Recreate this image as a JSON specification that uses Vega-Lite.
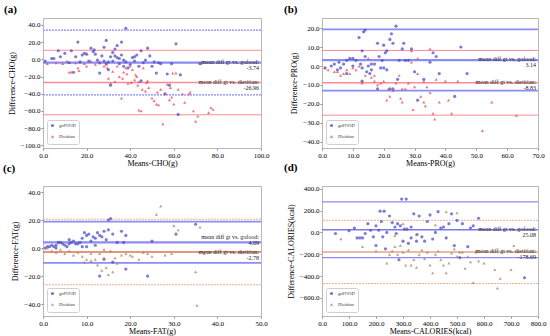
{
"$schema":"https://vega.github.io/schema/vega-lite/v6.json",
"padding":{"left":2,"top":3,"right":0,"bottom":2},
"background":"white",
"datasets":{
"pts":[
{"p":"a","g":"goFOOD","x":1,"y":-2},{"p":"a","g":"goFOOD","x":4,"y":1},{"p":"a","g":"goFOOD","x":5,"y":1},{"p":"a","g":"goFOOD","x":7,"y":10},{"p":"a","g":"goFOOD","x":8,"y":3},{"p":"a","g":"goFOOD","x":10,"y":7},{"p":"a","g":"goFOOD","x":12,"y":-4},{"p":"a","g":"goFOOD","x":13,"y":10},{"p":"a","g":"goFOOD","x":14,"y":-15},{"p":"a","g":"goFOOD","x":15,"y":3},{"p":"a","g":"goFOOD","x":16,"y":20},{"p":"a","g":"goFOOD","x":17,"y":-3},{"p":"a","g":"goFOOD","x":18,"y":5},{"p":"a","g":"goFOOD","x":19,"y":7},{"p":"a","g":"goFOOD","x":20,"y":6},{"p":"a","g":"goFOOD","x":21,"y":-2},{"p":"a","g":"goFOOD","x":22,"y":13},{"p":"a","g":"goFOOD","x":23,"y":9},{"p":"a","g":"goFOOD","x":23.5,"y":11},{"p":"a","g":"goFOOD","x":24,"y":6},{"p":"a","g":"goFOOD","x":25,"y":-1},{"p":"a","g":"goFOOD","x":26,"y":-4},{"p":"a","g":"goFOOD","x":26,"y":-16},{"p":"a","g":"goFOOD","x":27,"y":4},{"p":"a","g":"goFOOD","x":28,"y":-2},{"p":"a","g":"goFOOD","x":28,"y":14},{"p":"a","g":"goFOOD","x":29,"y":22},{"p":"a","g":"goFOOD","x":29,"y":-5},{"p":"a","g":"goFOOD","x":30,"y":-3},{"p":"a","g":"goFOOD","x":30,"y":-12},{"p":"a","g":"goFOOD","x":31,"y":3},{"p":"a","g":"goFOOD","x":31,"y":-30},{"p":"a","g":"goFOOD","x":32,"y":8},{"p":"a","g":"goFOOD","x":32,"y":-2},{"p":"a","g":"goFOOD","x":33,"y":4},{"p":"a","g":"goFOOD","x":33,"y":12},{"p":"a","g":"goFOOD","x":34,"y":2},{"p":"a","g":"goFOOD","x":34,"y":16},{"p":"a","g":"goFOOD","x":35,"y":1},{"p":"a","g":"goFOOD","x":35,"y":-5},{"p":"a","g":"goFOOD","x":36,"y":5},{"p":"a","g":"goFOOD","x":36,"y":20},{"p":"a","g":"goFOOD","x":37,"y":-1},{"p":"a","g":"goFOOD","x":37,"y":-8},{"p":"a","g":"goFOOD","x":38,"y":36},{"p":"a","g":"goFOOD","x":38,"y":-3},{"p":"a","g":"goFOOD","x":39,"y":-10},{"p":"a","g":"goFOOD","x":40,"y":-6},{"p":"a","g":"goFOOD","x":41,"y":2},{"p":"a","g":"goFOOD","x":42,"y":3},{"p":"a","g":"goFOOD","x":42,"y":-2},{"p":"a","g":"goFOOD","x":43,"y":5},{"p":"a","g":"goFOOD","x":44,"y":-8},{"p":"a","g":"goFOOD","x":45,"y":10},{"p":"a","g":"goFOOD","x":45,"y":-25},{"p":"a","g":"goFOOD","x":46,"y":-4},{"p":"a","g":"goFOOD","x":47,"y":-1},{"p":"a","g":"goFOOD","x":48,"y":13},{"p":"a","g":"goFOOD","x":49,"y":4},{"p":"a","g":"goFOOD","x":50,"y":-8},{"p":"a","g":"goFOOD","x":51,"y":-3},{"p":"a","g":"goFOOD","x":52,"y":-16},{"p":"a","g":"goFOOD","x":53,"y":-4},{"p":"a","g":"goFOOD","x":54,"y":-5},{"p":"a","g":"goFOOD","x":56,"y":-40},{"p":"a","g":"goFOOD","x":57,"y":-17},{"p":"a","g":"goFOOD","x":58,"y":-30},{"p":"a","g":"goFOOD","x":59,"y":-5},{"p":"a","g":"goFOOD","x":61,"y":18},{"p":"a","g":"goFOOD","x":62,"y":-64},{"p":"a","g":"goFOOD","x":63,"y":-18},{"p":"a","g":"goFOOD","x":72,"y":-5},
{"p":"a","g":"Dietitian","x":2,"y":-5},{"p":"a","g":"Dietitian","x":6,"y":-4},{"p":"a","g":"Dietitian","x":9,"y":-5},{"p":"a","g":"Dietitian","x":11,"y":-2},{"p":"a","g":"Dietitian","x":12,"y":-15},{"p":"a","g":"Dietitian","x":13,"y":-15},{"p":"a","g":"Dietitian","x":15,"y":-4},{"p":"a","g":"Dietitian","x":16,"y":-10},{"p":"a","g":"Dietitian","x":16.5,"y":-13},{"p":"a","g":"Dietitian","x":19,"y":-5},{"p":"a","g":"Dietitian","x":20,"y":-8},{"p":"a","g":"Dietitian","x":22,"y":-2},{"p":"a","g":"Dietitian","x":24,"y":-6},{"p":"a","g":"Dietitian","x":26,"y":-4},{"p":"a","g":"Dietitian","x":28,"y":-8},{"p":"a","g":"Dietitian","x":29,"y":-6},{"p":"a","g":"Dietitian","x":29.5,"y":-10},{"p":"a","g":"Dietitian","x":30,"y":-22},{"p":"a","g":"Dietitian","x":31,"y":-28},{"p":"a","g":"Dietitian","x":32,"y":-14},{"p":"a","g":"Dietitian","x":33,"y":-26},{"p":"a","g":"Dietitian","x":34,"y":-8},{"p":"a","g":"Dietitian","x":35,"y":-20},{"p":"a","g":"Dietitian","x":36,"y":-45},{"p":"a","g":"Dietitian","x":36.5,"y":-22},{"p":"a","g":"Dietitian","x":37,"y":-15},{"p":"a","g":"Dietitian","x":38,"y":-10},{"p":"a","g":"Dietitian","x":38.5,"y":-17},{"p":"a","g":"Dietitian","x":39,"y":-28},{"p":"a","g":"Dietitian","x":40,"y":-8},{"p":"a","g":"Dietitian","x":40.5,"y":-27},{"p":"a","g":"Dietitian","x":41,"y":-12},{"p":"a","g":"Dietitian","x":42,"y":-24},{"p":"a","g":"Dietitian","x":42.5,"y":-18},{"p":"a","g":"Dietitian","x":43,"y":-20},{"p":"a","g":"Dietitian","x":43.5,"y":-30},{"p":"a","g":"Dietitian","x":44,"y":-26},{"p":"a","g":"Dietitian","x":44,"y":-59},{"p":"a","g":"Dietitian","x":45,"y":-60},{"p":"a","g":"Dietitian","x":45.5,"y":-35},{"p":"a","g":"Dietitian","x":46,"y":-10},{"p":"a","g":"Dietitian","x":47,"y":-37},{"p":"a","g":"Dietitian","x":47.5,"y":-27},{"p":"a","g":"Dietitian","x":48,"y":-25},{"p":"a","g":"Dietitian","x":48.5,"y":-33},{"p":"a","g":"Dietitian","x":50,"y":-45},{"p":"a","g":"Dietitian","x":51,"y":-48},{"p":"a","g":"Dietitian","x":52,"y":-52},{"p":"a","g":"Dietitian","x":52.5,"y":-38},{"p":"a","g":"Dietitian","x":53,"y":-53},{"p":"a","g":"Dietitian","x":54,"y":-35},{"p":"a","g":"Dietitian","x":55,"y":-75},{"p":"a","g":"Dietitian","x":56,"y":-40},{"p":"a","g":"Dietitian","x":57,"y":-29},{"p":"a","g":"Dietitian","x":58,"y":-47},{"p":"a","g":"Dietitian","x":58.5,"y":-33},{"p":"a","g":"Dietitian","x":59,"y":-44},{"p":"a","g":"Dietitian","x":59.5,"y":-16},{"p":"a","g":"Dietitian","x":60,"y":-52},{"p":"a","g":"Dietitian","x":61,"y":-16},{"p":"a","g":"Dietitian","x":62,"y":-35},{"p":"a","g":"Dietitian","x":64,"y":-40},{"p":"a","g":"Dietitian","x":65,"y":-50},{"p":"a","g":"Dietitian","x":67,"y":-40},{"p":"a","g":"Dietitian","x":67.5,"y":-38},{"p":"a","g":"Dietitian","x":69,"y":-60},{"p":"a","g":"Dietitian","x":70,"y":-72},{"p":"a","g":"Dietitian","x":71,"y":-66},{"p":"a","g":"Dietitian","x":72.5,"y":-5},{"p":"a","g":"Dietitian","x":76,"y":-62},{"p":"a","g":"Dietitian","x":77,"y":-56},{"p":"a","g":"Dietitian","x":78,"y":-58},
{"p":"b","g":"goFOOD","x":1,"y":-1},{"p":"b","g":"goFOOD","x":3,"y":0},{"p":"b","g":"goFOOD","x":4,"y":1},{"p":"b","g":"goFOOD","x":5,"y":-2},{"p":"b","g":"goFOOD","x":5.5,"y":2},{"p":"b","g":"goFOOD","x":6,"y":-1},{"p":"b","g":"goFOOD","x":7,"y":1},{"p":"b","g":"goFOOD","x":8,"y":3},{"p":"b","g":"goFOOD","x":9,"y":4},{"p":"b","g":"goFOOD","x":10,"y":4},{"p":"b","g":"goFOOD","x":11,"y":3},{"p":"b","g":"goFOOD","x":12,"y":15},{"p":"b","g":"goFOOD","x":12.5,"y":1},{"p":"b","g":"goFOOD","x":13,"y":8},{"p":"b","g":"goFOOD","x":13,"y":-1},{"p":"b","g":"goFOOD","x":13.5,"y":18},{"p":"b","g":"goFOOD","x":14,"y":19},{"p":"b","g":"goFOOD","x":14,"y":5},{"p":"b","g":"goFOOD","x":14.5,"y":-3},{"p":"b","g":"goFOOD","x":15,"y":0},{"p":"b","g":"goFOOD","x":15.5,"y":-4},{"p":"b","g":"goFOOD","x":16,"y":-2},{"p":"b","g":"goFOOD","x":17,"y":1},{"p":"b","g":"goFOOD","x":18,"y":12},{"p":"b","g":"goFOOD","x":18.5,"y":5},{"p":"b","g":"goFOOD","x":18,"y":-12},{"p":"b","g":"goFOOD","x":19,"y":-1},{"p":"b","g":"goFOOD","x":19.5,"y":3},{"p":"b","g":"goFOOD","x":20,"y":11},{"p":"b","g":"goFOOD","x":20.5,"y":7},{"p":"b","g":"goFOOD","x":21,"y":8},{"p":"b","g":"goFOOD","x":21,"y":-2},{"p":"b","g":"goFOOD","x":22,"y":14},{"p":"b","g":"goFOOD","x":22.5,"y":17},{"p":"b","g":"goFOOD","x":22,"y":-12},{"p":"b","g":"goFOOD","x":23,"y":12},{"p":"b","g":"goFOOD","x":23,"y":-12},{"p":"b","g":"goFOOD","x":24,"y":21},{"p":"b","g":"goFOOD","x":24.5,"y":-7},{"p":"b","g":"goFOOD","x":25,"y":3},{"p":"b","g":"goFOOD","x":26,"y":9},{"p":"b","g":"goFOOD","x":26.5,"y":12},{"p":"b","g":"goFOOD","x":27,"y":3},{"p":"b","g":"goFOOD","x":28,"y":3},{"p":"b","g":"goFOOD","x":29,"y":9},{"p":"b","g":"goFOOD","x":30,"y":-3},{"p":"b","g":"goFOOD","x":31,"y":-18},{"p":"b","g":"goFOOD","x":33,"y":-7},{"p":"b","g":"goFOOD","x":35,"y":2},{"p":"b","g":"goFOOD","x":36,"y":7},{"p":"b","g":"goFOOD","x":37,"y":5},{"p":"b","g":"goFOOD","x":38,"y":-4},{"p":"b","g":"goFOOD","x":43,"y":-16},{"p":"b","g":"goFOOD","x":45,"y":10},{"p":"b","g":"goFOOD","x":47,"y":-4},{"p":"b","g":"goFOOD","x":13,"y":-8},{"p":"b","g":"goFOOD","x":20,"y":-1},{"p":"b","g":"goFOOD","x":16,"y":1},{"p":"b","g":"goFOOD","x":10,"y":0},{"p":"b","g":"goFOOD","x":8,"y":-4},
{"p":"b","g":"Dietitian","x":1,"y":-1},{"p":"b","g":"Dietitian","x":2,"y":-2},{"p":"b","g":"Dietitian","x":4,"y":-3},{"p":"b","g":"Dietitian","x":5,"y":-3},{"p":"b","g":"Dietitian","x":6,"y":-5},{"p":"b","g":"Dietitian","x":7,"y":-4},{"p":"b","g":"Dietitian","x":8,"y":-2},{"p":"b","g":"Dietitian","x":9,"y":-4},{"p":"b","g":"Dietitian","x":10,"y":-1},{"p":"b","g":"Dietitian","x":11,"y":-2},{"p":"b","g":"Dietitian","x":12,"y":0},{"p":"b","g":"Dietitian","x":13,"y":-9},{"p":"b","g":"Dietitian","x":14,"y":-5},{"p":"b","g":"Dietitian","x":15,"y":4},{"p":"b","g":"Dietitian","x":16,"y":-6},{"p":"b","g":"Dietitian","x":17,"y":-8},{"p":"b","g":"Dietitian","x":18,"y":-10},{"p":"b","g":"Dietitian","x":19,"y":-9},{"p":"b","g":"Dietitian","x":20,"y":-8},{"p":"b","g":"Dietitian","x":21,"y":-18},{"p":"b","g":"Dietitian","x":21.5,"y":-12},{"p":"b","g":"Dietitian","x":22,"y":-16},{"p":"b","g":"Dietitian","x":23,"y":-13},{"p":"b","g":"Dietitian","x":24,"y":-9},{"p":"b","g":"Dietitian","x":25,"y":-5},{"p":"b","g":"Dietitian","x":25.5,"y":-17},{"p":"b","g":"Dietitian","x":26,"y":-19},{"p":"b","g":"Dietitian","x":27,"y":-12},{"p":"b","g":"Dietitian","x":28,"y":-9},{"p":"b","g":"Dietitian","x":29,"y":8},{"p":"b","g":"Dietitian","x":29.5,"y":-23},{"p":"b","g":"Dietitian","x":30,"y":-11},{"p":"b","g":"Dietitian","x":31,"y":-4},{"p":"b","g":"Dietitian","x":32,"y":-16},{"p":"b","g":"Dietitian","x":33,"y":-19},{"p":"b","g":"Dietitian","x":33.5,"y":-21},{"p":"b","g":"Dietitian","x":34,"y":-11},{"p":"b","g":"Dietitian","x":35,"y":-14},{"p":"b","g":"Dietitian","x":35,"y":9},{"p":"b","g":"Dietitian","x":36,"y":-25},{"p":"b","g":"Dietitian","x":36.5,"y":-28},{"p":"b","g":"Dietitian","x":37,"y":-7},{"p":"b","g":"Dietitian","x":38,"y":-19},{"p":"b","g":"Dietitian","x":40,"y":-8},{"p":"b","g":"Dietitian","x":41,"y":-18},{"p":"b","g":"Dietitian","x":42,"y":-25},{"p":"b","g":"Dietitian","x":44,"y":-8},{"p":"b","g":"Dietitian","x":52,"y":-34},{"p":"b","g":"Dietitian","x":55,"y":-19},{"p":"b","g":"Dietitian","x":63,"y":-26},{"p":"b","g":"Dietitian","x":29,"y":2},{"p":"b","g":"Dietitian","x":31,"y":4},{"p":"b","g":"Dietitian","x":17,"y":-5},{"p":"b","g":"Dietitian","x":26,"y":-12},{"p":"b","g":"Dietitian","x":33,"y":-8},
{"p":"c","g":"goFOOD","x":0.5,"y":0},{"p":"c","g":"goFOOD","x":1,"y":1},{"p":"c","g":"goFOOD","x":1.5,"y":1},{"p":"c","g":"goFOOD","x":2,"y":2},{"p":"c","g":"goFOOD","x":2.5,"y":1},{"p":"c","g":"goFOOD","x":3,"y":2},{"p":"c","g":"goFOOD","x":3.5,"y":4},{"p":"c","g":"goFOOD","x":4,"y":4},{"p":"c","g":"goFOOD","x":4.5,"y":3},{"p":"c","g":"goFOOD","x":5,"y":2},{"p":"c","g":"goFOOD","x":5.5,"y":1},{"p":"c","g":"goFOOD","x":6,"y":3},{"p":"c","g":"goFOOD","x":6.5,"y":4},{"p":"c","g":"goFOOD","x":7,"y":5},{"p":"c","g":"goFOOD","x":7.5,"y":3},{"p":"c","g":"goFOOD","x":8,"y":3},{"p":"c","g":"goFOOD","x":8.5,"y":4},{"p":"c","g":"goFOOD","x":9,"y":7},{"p":"c","g":"goFOOD","x":9.5,"y":11},{"p":"c","g":"goFOOD","x":10,"y":9},{"p":"c","g":"goFOOD","x":10.5,"y":10},{"p":"c","g":"goFOOD","x":11,"y":5},{"p":"c","g":"goFOOD","x":11.5,"y":8},{"p":"c","g":"goFOOD","x":12,"y":7},{"p":"c","g":"goFOOD","x":12.5,"y":11},{"p":"c","g":"goFOOD","x":13,"y":9},{"p":"c","g":"goFOOD","x":13.5,"y":8},{"p":"c","g":"goFOOD","x":14,"y":12},{"p":"c","g":"goFOOD","x":14.5,"y":6},{"p":"c","g":"goFOOD","x":15,"y":13},{"p":"c","g":"goFOOD","x":15,"y":20},{"p":"c","g":"goFOOD","x":15.5,"y":21},{"p":"c","g":"goFOOD","x":16,"y":10},{"p":"c","g":"goFOOD","x":16,"y":-10},{"p":"c","g":"goFOOD","x":17,"y":4},{"p":"c","g":"goFOOD","x":18,"y":12},{"p":"c","g":"goFOOD","x":18.5,"y":4},{"p":"c","g":"goFOOD","x":19,"y":9},{"p":"c","g":"goFOOD","x":19,"y":-15},{"p":"c","g":"goFOOD","x":24,"y":-20},{"p":"c","g":"goFOOD","x":25,"y":5},{"p":"c","g":"goFOOD","x":14,"y":-8},{"p":"c","g":"goFOOD","x":13,"y":-20},{"p":"c","g":"goFOOD","x":10,"y":1},{"p":"c","g":"goFOOD","x":12,"y":2},{"p":"c","g":"goFOOD","x":6,"y":6},{"p":"c","g":"goFOOD","x":9,"y":1},{"p":"c","g":"goFOOD","x":3,"y":0},{"p":"c","g":"goFOOD","x":35,"y":17},{"p":"c","g":"goFOOD","x":30.5,"y":10},
{"p":"c","g":"Dietitian","x":1,"y":0},{"p":"c","g":"Dietitian","x":2,"y":-2},{"p":"c","g":"Dietitian","x":3,"y":-3},{"p":"c","g":"Dietitian","x":4,"y":-1},{"p":"c","g":"Dietitian","x":5,"y":-4},{"p":"c","g":"Dietitian","x":6,"y":-2},{"p":"c","g":"Dietitian","x":7,"y":-5},{"p":"c","g":"Dietitian","x":8,"y":-3},{"p":"c","g":"Dietitian","x":9,"y":-6},{"p":"c","g":"Dietitian","x":9.5,"y":-10},{"p":"c","g":"Dietitian","x":10,"y":-8},{"p":"c","g":"Dietitian","x":11,"y":-4},{"p":"c","g":"Dietitian","x":12,"y":-8},{"p":"c","g":"Dietitian","x":12.5,"y":-12},{"p":"c","g":"Dietitian","x":13,"y":-4},{"p":"c","g":"Dietitian","x":13.5,"y":-16},{"p":"c","g":"Dietitian","x":14,"y":-1},{"p":"c","g":"Dietitian","x":14.5,"y":-14},{"p":"c","g":"Dietitian","x":15,"y":-19},{"p":"c","g":"Dietitian","x":15.5,"y":-2},{"p":"c","g":"Dietitian","x":16,"y":-17},{"p":"c","g":"Dietitian","x":16.5,"y":-7},{"p":"c","g":"Dietitian","x":17,"y":-11},{"p":"c","g":"Dietitian","x":18,"y":-5},{"p":"c","g":"Dietitian","x":19,"y":-4},{"p":"c","g":"Dietitian","x":20,"y":-5},{"p":"c","g":"Dietitian","x":22,"y":-8},{"p":"c","g":"Dietitian","x":23,"y":-3},{"p":"c","g":"Dietitian","x":24,"y":-4},{"p":"c","g":"Dietitian","x":25,"y":-6},{"p":"c","g":"Dietitian","x":26,"y":24},{"p":"c","g":"Dietitian","x":27,"y":30},{"p":"c","g":"Dietitian","x":28,"y":-5},{"p":"c","g":"Dietitian","x":29.5,"y":-4},{"p":"c","g":"Dietitian","x":30,"y":16},{"p":"c","g":"Dietitian","x":31,"y":13},{"p":"c","g":"Dietitian","x":35,"y":-17},{"p":"c","g":"Dietitian","x":35.3,"y":-41},{"p":"c","g":"Dietitian","x":36,"y":15},{"p":"c","g":"Dietitian","x":37,"y":-4},{"p":"c","g":"Dietitian","x":20.5,"y":-6},{"p":"c","g":"Dietitian","x":14,"y":-7},{"p":"c","g":"Dietitian","x":11,"y":-9},
{"p":"d","g":"goFOOD","x":50,"y":-10},{"p":"d","g":"goFOOD","x":100,"y":15},{"p":"d","g":"goFOOD","x":120,"y":40},{"p":"d","g":"goFOOD","x":130,"y":-50},{"p":"d","g":"goFOOD","x":140,"y":-50},{"p":"d","g":"goFOOD","x":160,"y":-10},{"p":"d","g":"goFOOD","x":170,"y":80},{"p":"d","g":"goFOOD","x":180,"y":20},{"p":"d","g":"goFOOD","x":190,"y":-40},{"p":"d","g":"goFOOD","x":200,"y":60},{"p":"d","g":"goFOOD","x":210,"y":20},{"p":"d","g":"goFOOD","x":215,"y":195},{"p":"d","g":"goFOOD","x":220,"y":100},{"p":"d","g":"goFOOD","x":225,"y":-40},{"p":"d","g":"goFOOD","x":230,"y":195},{"p":"d","g":"goFOOD","x":235,"y":-150},{"p":"d","g":"goFOOD","x":240,"y":0},{"p":"d","g":"goFOOD","x":250,"y":150},{"p":"d","g":"goFOOD","x":260,"y":90},{"p":"d","g":"goFOOD","x":270,"y":50},{"p":"d","g":"goFOOD","x":275,"y":-10},{"p":"d","g":"goFOOD","x":280,"y":80},{"p":"d","g":"goFOOD","x":285,"y":-250},{"p":"d","g":"goFOOD","x":290,"y":60},{"p":"d","g":"goFOOD","x":295,"y":305},{"p":"d","g":"goFOOD","x":300,"y":-80},{"p":"d","g":"goFOOD","x":305,"y":30},{"p":"d","g":"goFOOD","x":312,"y":305},{"p":"d","g":"goFOOD","x":315,"y":30},{"p":"d","g":"goFOOD","x":320,"y":-100},{"p":"d","g":"goFOOD","x":330,"y":-50},{"p":"d","g":"goFOOD","x":340,"y":170},{"p":"d","g":"goFOOD","x":350,"y":-80},{"p":"d","g":"goFOOD","x":360,"y":150},{"p":"d","g":"goFOOD","x":370,"y":-40},{"p":"d","g":"goFOOD","x":380,"y":-80},{"p":"d","g":"goFOOD","x":390,"y":100},{"p":"d","g":"goFOOD","x":400,"y":160},{"p":"d","g":"goFOOD","x":410,"y":-60},{"p":"d","g":"goFOOD","x":420,"y":0},{"p":"d","g":"goFOOD","x":430,"y":190},{"p":"d","g":"goFOOD","x":440,"y":40},{"p":"d","g":"goFOOD","x":450,"y":50},{"p":"d","g":"goFOOD","x":460,"y":-50},{"p":"d","g":"goFOOD","x":470,"y":80},{"p":"d","g":"goFOOD","x":480,"y":170},{"p":"d","g":"goFOOD","x":490,"y":-120},{"p":"d","g":"goFOOD","x":500,"y":110},{"p":"d","g":"goFOOD","x":510,"y":-230},{"p":"d","g":"goFOOD","x":520,"y":80},{"p":"d","g":"goFOOD","x":540,"y":-130},{"p":"d","g":"goFOOD","x":550,"y":40},{"p":"d","g":"goFOOD","x":560,"y":60},{"p":"d","g":"goFOOD","x":580,"y":130},{"p":"d","g":"goFOOD","x":750,"y":-415},{"p":"d","g":"goFOOD","x":150,"y":-50},{"p":"d","g":"goFOOD","x":200,"y":-120},{"p":"d","g":"goFOOD","x":330,"y":50},{"p":"d","g":"goFOOD","x":352,"y":-20},
{"p":"d","g":"Dietitian","x":70,"y":-60},{"p":"d","g":"Dietitian","x":150,"y":-130},{"p":"d","g":"Dietitian","x":200,"y":-170},{"p":"d","g":"Dietitian","x":240,"y":-280},{"p":"d","g":"Dietitian","x":250,"y":-200},{"p":"d","g":"Dietitian","x":260,"y":-170},{"p":"d","g":"Dietitian","x":270,"y":-130},{"p":"d","g":"Dietitian","x":280,"y":-200},{"p":"d","g":"Dietitian","x":290,"y":-120},{"p":"d","g":"Dietitian","x":300,"y":-180},{"p":"d","g":"Dietitian","x":310,"y":-300},{"p":"d","g":"Dietitian","x":320,"y":-160},{"p":"d","g":"Dietitian","x":330,"y":-300},{"p":"d","g":"Dietitian","x":340,"y":-250},{"p":"d","g":"Dietitian","x":350,"y":-320},{"p":"d","g":"Dietitian","x":360,"y":-200},{"p":"d","g":"Dietitian","x":370,"y":-160},{"p":"d","g":"Dietitian","x":380,"y":-240},{"p":"d","g":"Dietitian","x":390,"y":-180},{"p":"d","g":"Dietitian","x":400,"y":-300},{"p":"d","g":"Dietitian","x":410,"y":-370},{"p":"d","g":"Dietitian","x":420,"y":-200},{"p":"d","g":"Dietitian","x":430,"y":-170},{"p":"d","g":"Dietitian","x":440,"y":-250},{"p":"d","g":"Dietitian","x":450,"y":-300},{"p":"d","g":"Dietitian","x":460,"y":-370},{"p":"d","g":"Dietitian","x":470,"y":-280},{"p":"d","g":"Dietitian","x":480,"y":-190},{"p":"d","g":"Dietitian","x":490,"y":-150},{"p":"d","g":"Dietitian","x":500,"y":-220},{"p":"d","g":"Dietitian","x":510,"y":-180},{"p":"d","g":"Dietitian","x":520,"y":-180},{"p":"d","g":"Dietitian","x":530,"y":-330},{"p":"d","g":"Dietitian","x":540,"y":-220},{"p":"d","g":"Dietitian","x":550,"y":-270},{"p":"d","g":"Dietitian","x":560,"y":-460},{"p":"d","g":"Dietitian","x":570,"y":-180},{"p":"d","g":"Dietitian","x":580,"y":-260},{"p":"d","g":"Dietitian","x":600,"y":-280},{"p":"d","g":"Dietitian","x":640,"y":-340},{"p":"d","g":"Dietitian","x":650,"y":-510},{"p":"d","g":"Dietitian","x":660,"y":-420},{"p":"d","g":"Dietitian","x":700,"y":-340},{"p":"d","g":"Dietitian","x":710,"y":-120},{"p":"d","g":"Dietitian","x":420,"y":70},{"p":"d","g":"Dietitian","x":460,"y":190},{"p":"d","g":"Dietitian","x":500,"y":180},{"p":"d","g":"Dietitian","x":300,"y":80},{"p":"d","g":"Dietitian","x":350,"y":-20},{"p":"d","g":"Dietitian","x":270,"y":-30}
],
"lines":[
{"p":"a","line":"goFOOD mean","y":-3.74},{"p":"a","line":"goFOOD limit","y":33.9},{"p":"a","line":"goFOOD limit","y":-41.4},{"p":"a","line":"Dietitian mean","y":-26.96},{"p":"a","line":"Dietitian limit","y":10.5},{"p":"a","line":"Dietitian limit","y":-64.4},
{"p":"b","line":"goFOOD mean","y":3.14},{"p":"b","line":"goFOOD limit","y":19.3},{"p":"b","line":"goFOOD limit","y":-13.0},{"p":"b","line":"Dietitian mean","y":-8.83},{"p":"b","line":"Dietitian limit","y":8.2},{"p":"b","line":"Dietitian limit","y":-25.9},
{"p":"c","line":"goFOOD mean","y":4.09},{"p":"c","line":"goFOOD limit","y":18.8},{"p":"c","line":"goFOOD limit","y":-10.6},{"p":"c","line":"Dietitian mean","y":-2.78},{"p":"c","line":"Dietitian limit","y":20.6},{"p":"c","line":"Dietitian limit","y":-26.2},
{"p":"d","line":"goFOOD mean","y":25.08},{"p":"d","line":"goFOOD limit","y":280},{"p":"d","line":"goFOOD limit","y":-230},{"p":"d","line":"Dietitian mean","y":-178.69},{"p":"d","line":"Dietitian limit","y":111},{"p":"d","line":"Dietitian limit","y":-468}
],
"notes":[
{"p":"a","g":"goFOOD","x":100,"y":-3.74,"t":"mean diff gt vs. gofood:\n-3.74"},{"p":"a","g":"Dietitian","x":100,"y":-26.96,"t":"mean diff gt vs. dietitian:\n-26.96"},
{"p":"b","g":"goFOOD","x":70,"y":3.14,"t":"mean diff gt vs. gofood:\n3.14"},{"p":"b","g":"Dietitian","x":70,"y":-8.83,"t":"mean diff gt vs. dietitian:\n-8.83"},
{"p":"c","g":"goFOOD","x":50,"y":4.09,"t":"mean diff gt vs. gofood:\n4.09"},{"p":"c","g":"Dietitian","x":50,"y":-2.78,"t":"mean diff gt vs. dietitian:\n-2.78"},
{"p":"d","g":"goFOOD","x":800,"y":25.08,"t":"mean diff gt vs. gofood:\n25.08"},{"p":"d","g":"Dietitian","x":800,"y":-178.69,"t":"mean diff gt vs. dietitian:\n-178.69"}
]
},
"columns":2,
"spacing":{"row":38,"column":61},
"bounds":"flush",
"resolve":{"scale":{"x":"independent","y":"independent","fill":"independent","shape":"independent","stroke":"independent","strokeWidth":"independent","strokeDash":"independent"},"legend":{"fill":"independent","shape":"independent"}},
"concat":[
{"width":218,"height":130,"title":{"text":"(a)","dx":-39,"offset":3},
"layer":[
{"data":{"name":"lines"},"transform":[{"filter":"datum.p=='a'"}],"mark":{"type":"rule"},
"encoding":{"y":{"field":"y","type":"quantitative","axis":{"values":[-100,-80,-60,-40,-20,0,20,40],"format":".1f","title":"Difference-CHO(g)","labelOverlap":false}},
"stroke":{"field":"line","type":"nominal","scale":{"domain":["goFOOD mean","goFOOD limit","Dietitian mean","Dietitian limit"],"range":["#8c8cf5","#a8a8ff","#ff8a98","#ff8a98"]},"legend":null},
"strokeWidth":{"field":"line","type":"nominal","scale":{"domain":["goFOOD mean","goFOOD limit","Dietitian mean","Dietitian limit"],"range":[2.2,1,1.4,1.1]},"legend":null},
"strokeDash":{"field":"line","type":"nominal","scale":{"domain":["goFOOD mean","goFOOD limit","Dietitian mean","Dietitian limit"],"range":[[4,0],[2,1],[4,0],[4,0]]},"legend":null}}},
{"data":{"name":"pts"},"transform":[{"filter":"datum.p=='a'"}],"mark":{"type":"point","filled":true,"size":10,"opacity":0.75},
"encoding":{"x":{"field":"x","type":"quantitative","scale":{"domain":[0,100],"nice":false,"zero":false},"axis":{"values":[0,20,40,60,80,100],"format":".1f","title":"Means-CHO(g)","labelOverlap":false,"labelFlush":false}},
"y":{"field":"y","type":"quantitative","scale":{"domain":[-103,48],"nice":false,"zero":false},"axis":{"values":[-100,-80,-60,-40,-20,0,20,40],"format":".1f","title":"Difference-CHO(g)","labelOverlap":false}},
"fill":{"field":"g","type":"nominal","scale":{"domain":["goFOOD","Dietitian"],"range":["#4f4fc8","#e8485a"]},"legend":{"orient":"bottom-left","title":null}},
"shape":{"field":"g","type":"nominal","scale":{"domain":["goFOOD","Dietitian"],"range":["circle","triangle-up"]},"legend":{"orient":"bottom-left","title":null}}}},
{"data":{"name":"notes"},"transform":[{"filter":"datum.p=='a'"}],"mark":{"type":"text","align":"right","baseline":"middle","dx":-2,"dy":-1,"fontSize":6,"lineBreak":"\n","lineHeight":6,"font":"Liberation Serif","color":"#222"},
"encoding":{"x":{"field":"x","type":"quantitative","axis":{"values":[0,20,40,60,80,100],"format":".1f","title":"Means-CHO(g)","labelOverlap":false,"labelFlush":false}},"y":{"field":"y","type":"quantitative","axis":{"values":[-100,-80,-60,-40,-20,0,20,40],"format":".1f","title":"Difference-CHO(g)","labelOverlap":false}},"text":{"field":"t"}}}
]},
{"width":216,"height":130,"title":{"text":"(b)","dx":-38,"offset":3},
"layer":[
{"data":{"name":"lines"},"transform":[{"filter":"datum.p=='b'"}],"mark":{"type":"rule"},
"encoding":{"y":{"field":"y","type":"quantitative","axis":{"values":[-40,-30,-20,-10,0,10,20],"format":".1f","title":"Difference-PRO(g)","labelOverlap":false}},
"stroke":{"field":"line","type":"nominal","scale":{"domain":["goFOOD mean","goFOOD limit","Dietitian mean","Dietitian limit"],"range":["#8c8cf5","#8c8cf5","#ff8a98","#ff8a98"]},"legend":null},
"strokeWidth":{"field":"line","type":"nominal","scale":{"domain":["goFOOD mean","goFOOD limit","Dietitian mean","Dietitian limit"],"range":[2.2,1,1.4,1.1]},"legend":null}}},
{"data":{"name":"pts"},"transform":[{"filter":"datum.p=='b'"}],"mark":{"type":"point","filled":true,"size":10,"opacity":0.75},
"encoding":{"x":{"field":"x","type":"quantitative","scale":{"domain":[0,70],"nice":false,"zero":false},"axis":{"values":[0,10,20,30,40,50,60,70],"format":".1f","title":"Means-PRO(g)","labelOverlap":false,"labelFlush":false}},
"y":{"field":"y","type":"quantitative","scale":{"domain":[-43.2,25.3],"nice":false,"zero":false},"axis":{"values":[-40,-30,-20,-10,0,10,20],"format":".1f","title":"Difference-PRO(g)","labelOverlap":false}},
"fill":{"field":"g","type":"nominal","scale":{"domain":["goFOOD","Dietitian"],"range":["#4f4fc8","#e8485a"]},"legend":{"orient":"bottom-left","title":null}},
"shape":{"field":"g","type":"nominal","scale":{"domain":["goFOOD","Dietitian"],"range":["circle","triangle-up"]},"legend":{"orient":"bottom-left","title":null}}}},
{"data":{"name":"notes"},"transform":[{"filter":"datum.p=='b'"}],"mark":{"type":"text","align":"right","baseline":"middle","dx":-2,"dy":-1,"fontSize":6,"lineBreak":"\n","lineHeight":6,"font":"Liberation Serif","color":"#222"},
"encoding":{"x":{"field":"x","type":"quantitative","axis":{"values":[0,10,20,30,40,50,60,70],"format":".1f","title":"Means-PRO(g)","labelOverlap":false,"labelFlush":false}},"y":{"field":"y","type":"quantitative","axis":{"values":[-40,-30,-20,-10,0,10,20],"format":".1f","title":"Difference-PRO(g)","labelOverlap":false}},"text":{"field":"t"}}}
]},
{"width":218,"height":130,"title":{"text":"(c)","dx":-40,"offset":12},
"layer":[
{"data":{"name":"lines"},"transform":[{"filter":"datum.p=='c'"}],"mark":{"type":"rule"},
"encoding":{"y":{"field":"y","type":"quantitative","axis":{"values":[-40,-20,0,20,40],"format":".1f","title":"Difference-FAT(g)","labelOverlap":false}},
"stroke":{"field":"line","type":"nominal","scale":{"domain":["goFOOD mean","goFOOD limit","Dietitian mean","Dietitian limit"],"range":["#8c8cf5","#8c8cf5","#d9784f","#eeb090"]},"legend":null},
"strokeWidth":{"field":"line","type":"nominal","scale":{"domain":["goFOOD mean","goFOOD limit","Dietitian mean","Dietitian limit"],"range":[2.2,1,1.1,1.1]},"legend":null},
"strokeDash":{"field":"line","type":"nominal","scale":{"domain":["goFOOD mean","goFOOD limit","Dietitian mean","Dietitian limit"],"range":[[4,0],[4,0],[4,0],[2,1]]},"legend":null}}},
{"data":{"name":"pts"},"transform":[{"filter":"datum.p=='c'"}],"mark":{"type":"point","filled":true,"size":10,"opacity":0.75},
"encoding":{"x":{"field":"x","type":"quantitative","scale":{"domain":[0,50],"nice":false,"zero":false},"axis":{"values":[0,10,20,30,40,50],"format":".1f","title":"Means-FAT(g)","labelOverlap":false,"labelFlush":false}},
"y":{"field":"y","type":"quantitative","scale":{"domain":[-48.5,44.3],"nice":false,"zero":false},"axis":{"values":[-40,-20,0,20,40],"format":".1f","title":"Difference-FAT(g)","labelOverlap":false}},
"fill":{"field":"g","type":"nominal","scale":{"domain":["goFOOD","Dietitian"],"range":["#4f4fc8","#a8825e"]},"legend":{"orient":"bottom-left","title":null}},
"shape":{"field":"g","type":"nominal","scale":{"domain":["goFOOD","Dietitian"],"range":["circle","triangle-up"]},"legend":{"orient":"bottom-left","title":null}}}},
{"data":{"name":"notes"},"transform":[{"filter":"datum.p=='c' && datum.g=='goFOOD'"}],"mark":{"type":"text","align":"right","baseline":"middle","dx":-2,"dy":-5,"fontSize":6,"lineBreak":"\n","lineHeight":5.5,"font":"Liberation Serif","color":"#222"},
"encoding":{"x":{"field":"x","type":"quantitative","axis":{"values":[0,10,20,30,40,50],"format":".1f","title":"Means-FAT(g)","labelOverlap":false,"labelFlush":false}},"y":{"field":"y","type":"quantitative","axis":{"values":[-40,-20,0,20,40],"format":".1f","title":"Difference-FAT(g)","labelOverlap":false}},"text":{"field":"t"}}},
{"data":{"name":"notes"},"transform":[{"filter":"datum.p=='c' && datum.g=='Dietitian'"}],"mark":{"type":"text","align":"right","baseline":"middle","dx":-2,"dy":0.5,"fontSize":6,"lineBreak":"\n","lineHeight":5.5,"font":"Liberation Serif","color":"#222"},
"encoding":{"x":{"field":"x","type":"quantitative","axis":{"values":[0,10,20,30,40,50],"format":".1f","title":"Means-FAT(g)","labelOverlap":false,"labelFlush":false}},"y":{"field":"y","type":"quantitative","axis":{"values":[-40,-20,0,20,40],"format":".1f","title":"Difference-FAT(g)","labelOverlap":false}},"text":{"field":"t"}}}
]},
{"width":216,"height":130,"title":{"text":"(d)","dx":-38,"offset":12},
"layer":[
{"data":{"name":"lines"},"transform":[{"filter":"datum.p=='d'"}],"mark":{"type":"rule"},
"encoding":{"y":{"field":"y","type":"quantitative","axis":{"values":[-600,-400,-200,0,200,400],"format":".1f","title":"Difference-CALORIES(kcal)","labelOverlap":false}},
"stroke":{"field":"line","type":"nominal","scale":{"domain":["goFOOD mean","goFOOD limit","Dietitian mean","Dietitian limit"],"range":["#7a7af0","#8c8cf5","#d9784f","#eeb090"]},"legend":null},
"strokeWidth":{"field":"line","type":"nominal","scale":{"domain":["goFOOD mean","goFOOD limit","Dietitian mean","Dietitian limit"],"range":[1.4,1,1.1,1.1]},"legend":null},
"strokeDash":{"field":"line","type":"nominal","scale":{"domain":["goFOOD mean","goFOOD limit","Dietitian mean","Dietitian limit"],"range":[[4,0],[4,0],[4,0],[2,1]]},"legend":null}}},
{"data":{"name":"pts"},"transform":[{"filter":"datum.p=='d'"}],"mark":{"type":"point","filled":true,"size":10,"opacity":0.75},
"encoding":{"x":{"field":"x","type":"quantitative","scale":{"domain":[0,800],"nice":false,"zero":false},"axis":{"values":[0,100,200,300,400,500,600,700,800],"format":".1f","title":"Means-CALORIES(kcal)","labelOverlap":false,"labelFlush":false}},
"y":{"field":"y","type":"quantitative","scale":{"domain":[-765,425],"nice":false,"zero":false},"axis":{"values":[-600,-400,-200,0,200,400],"format":".1f","title":"Difference-CALORIES(kcal)","labelOverlap":false}},
"fill":{"field":"g","type":"nominal","scale":{"domain":["goFOOD","Dietitian"],"range":["#4f4fc8","#a8825e"]},"legend":{"orient":"bottom-left","title":null}},
"shape":{"field":"g","type":"nominal","scale":{"domain":["goFOOD","Dietitian"],"range":["circle","triangle-up"]},"legend":{"orient":"bottom-left","title":null}}}},
{"data":{"name":"notes"},"transform":[{"filter":"datum.p=='d'"}],"mark":{"type":"text","align":"right","baseline":"middle","dx":-2,"dy":-1,"fontSize":6,"lineBreak":"\n","lineHeight":6,"font":"Liberation Serif","color":"#222"},
"encoding":{"x":{"field":"x","type":"quantitative","axis":{"values":[0,100,200,300,400,500,600,700,800],"format":".1f","title":"Means-CALORIES(kcal)","labelOverlap":false,"labelFlush":false}},"y":{"field":"y","type":"quantitative","axis":{"values":[-600,-400,-200,0,200,400],"format":".1f","title":"Difference-CALORIES(kcal)","labelOverlap":false}},"text":{"field":"t"}}}
]}
],
"config":{
"font":"Liberation Serif",
"view":{"stroke":"#b8b8b8"},
"axis":{"labelFont":"Liberation Serif","titleFont":"Liberation Serif","labelFontSize":7,"titleFontSize":8,"titleFontWeight":"normal","labelColor":"#000","titleColor":"#000","grid":false,"domainColor":"#b8b8b8","tickColor":"#888","tickSize":2,"labelPadding":1,"titlePadding":1,"labelOverlap":false,"labelFlush":false},
"axisY":{"titlePadding":4},
"title":{"font":"Liberation Serif","fontSize":11,"fontWeight":"bold","anchor":"start","frame":"group","color":"#000"},
"legend":{"labelFont":"Liberation Serif","labelFontSize":4.5,"symbolSize":10,"padding":3,"rowPadding":1,"strokeColor":"#d0d0d0","fillColor":"white","offset":4,"cornerRadius":2,"symbolOpacity":0.8,"labelColor":"#333"}
}
}
